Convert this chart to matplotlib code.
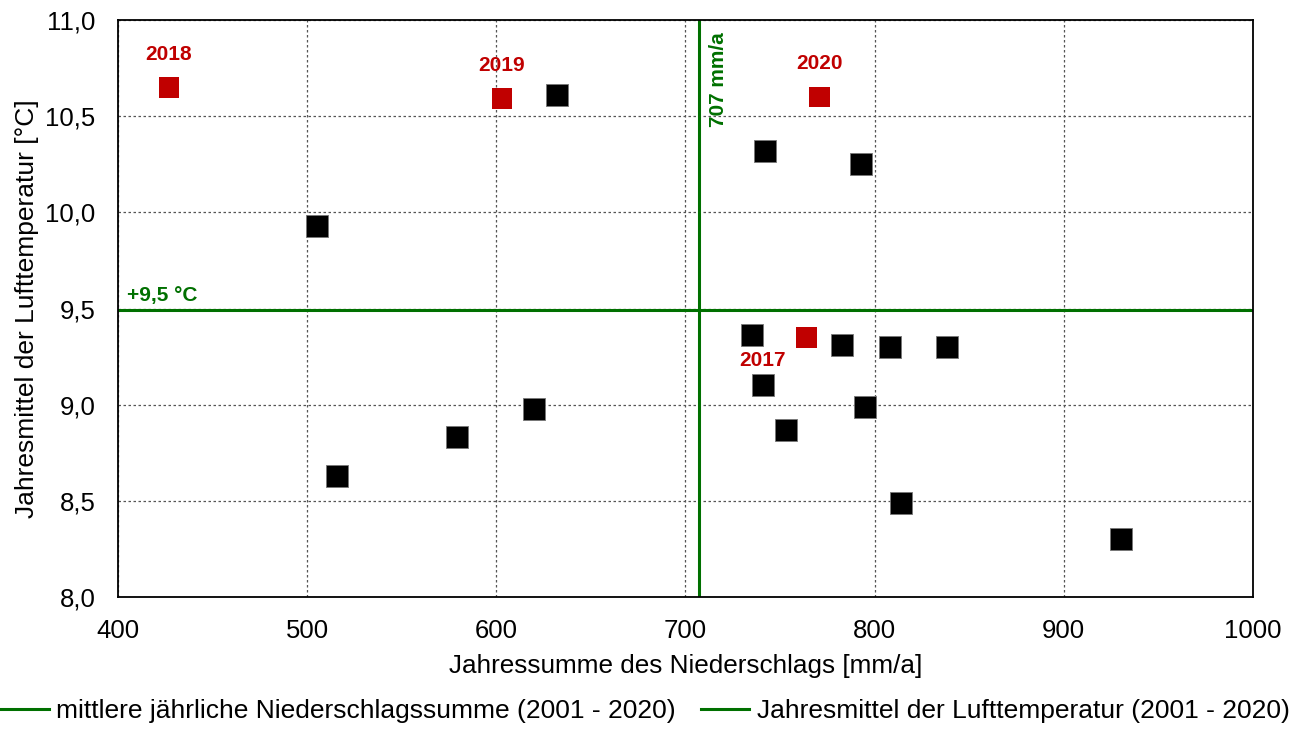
import matplotlib
matplotlib.use("Agg")
import matplotlib.pyplot as plt
from matplotlib.ticker import FuncFormatter

# Jahreswerte 2001 - 2016 (schwarz) und 2017 - 2020 (rot)
niederschlag = [632, 742, 793, 505, 735, 741, 783, 808, 838, 795, 753, 814, 930, 620, 579, 516]
temperatur = [10.61, 10.32, 10.25, 9.93, 9.36, 9.10, 9.31, 9.30, 9.30, 8.99, 8.87, 8.49, 8.30, 8.98, 8.83, 8.63]

jahre_neu = ["2017", "2018", "2019", "2020"]
niederschlag_neu = [764, 427, 603, 771]
temperatur_neu = [9.35, 10.65, 10.59, 10.60]

mittel_niederschlag = 707
mittel_temperatur = 9.49

GREEN = "#007000"
RED = "#C00000"

plt.rcParams['font.family'] = ['Liberation Sans', 'DejaVu Sans']

fig = plt.figure(figsize=(13.12, 7.31), dpi=100)
ax = fig.add_axes([0.0899, 0.1833, 0.8651, 0.7893])

l1 = ax.axvline(mittel_niederschlag, color=GREEN, lw=2.2,
                label="mittlere jährliche Niederschlagssumme (2001 - 2020)", zorder=2)
l2 = ax.axhline(mittel_temperatur, color=GREEN, lw=2.2,
                label="Jahresmittel der Lufttemperatur (2001 - 2020)", zorder=2)

ax.scatter(niederschlag, temperatur, marker='s', s=260, c='black',
           edgecolors='#777777', linewidths=0.6, zorder=3)
ax.scatter(niederschlag_neu, temperatur_neu, marker='s', s=225, c=RED,
           edgecolors='none', zorder=3)

# Jahresbeschriftungen (Versatz in Punkt)
offsets = {"2017": (-32, -17), "2018": (0, 24), "2019": (0, 24), "2020": (0, 24)}
for j, x, y in zip(jahre_neu, niederschlag_neu, temperatur_neu):
    ax.annotate(j, (x, y), xytext=offsets[j], textcoords='offset points',
                ha='center', va='center', color=RED, fontsize=15, fontweight='bold')

ax.text(mittel_niederschlag + 10.5, 10.69, f"{mittel_niederschlag} mm/a", rotation=90,
        ha='center', va='center', color=GREEN, fontsize=15, fontweight='bold')
ax.text(405, mittel_temperatur + 0.03, "+9,5 °C", ha='left', va='bottom',
        color=GREEN, fontsize=15, fontweight='bold')

ax.set_xlim(400, 1000)
ax.set_ylim(8.0, 11.0)
ax.set_xticks(range(400, 1001, 100))
ax.set_yticks([8.0, 8.5, 9.0, 9.5, 10.0, 10.5, 11.0])
ax.yaxis.set_major_formatter(FuncFormatter(lambda v, p: f"{v:.1f}".replace('.', ',')))
ax.tick_params(axis='both', labelsize=18.5, length=0)
ax.tick_params(axis='x', pad=16)
ax.tick_params(axis='y', pad=16)
ax.grid(True, color='#555555', linestyle=(0, (2, 2)), lw=0.9, zorder=1)
for s in ax.spines.values():
    s.set_linewidth(1.3)

ax.set_xlabel("Jahressumme des Niederschlags [mm/a]", fontsize=18.8, labelpad=8)
ax.set_ylabel("Jahresmittel der Lufttemperatur [°C]", fontsize=19, labelpad=5)

fig.legend(handles=[l1, l2], loc='center left', bbox_to_anchor=(0.0, 0.027), ncol=2,
           frameon=False, fontsize=19, handlelength=1.85, handletextpad=0.27,
           columnspacing=0.95, borderpad=0, borderaxespad=0)

fig.savefig("out.png", dpi=100)
